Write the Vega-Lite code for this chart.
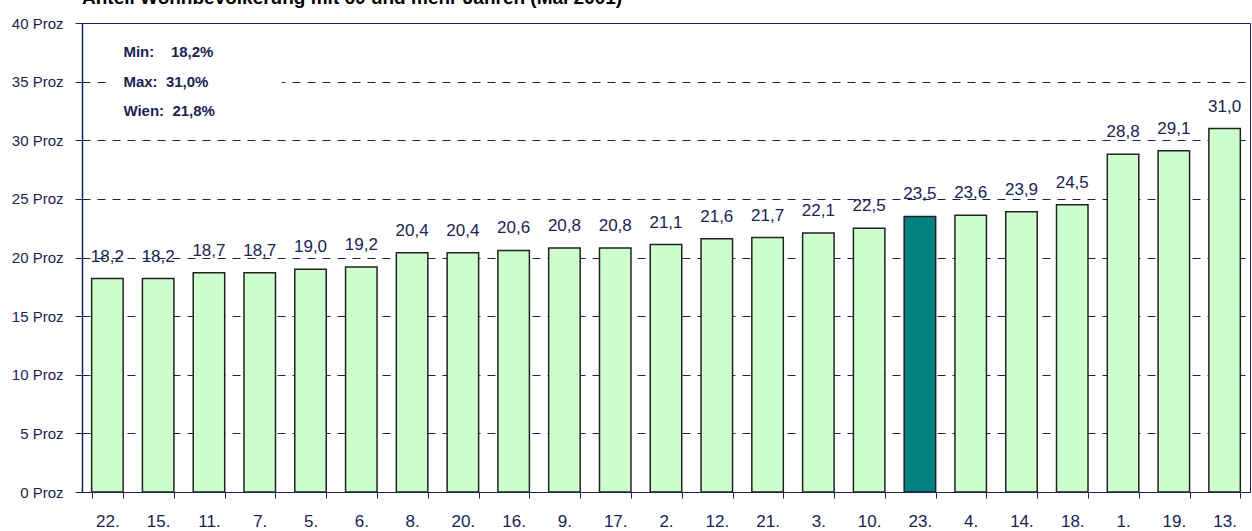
{
  "$schema": "https://vega.github.io/schema/vega-lite/v6.json",
  "width": 1168,
  "height": 469,
  "autosize": "none",
  "padding": {"left": 82, "top": 23, "right": 2, "bottom": 39},
  "background": "white",
  "title": {
    "text": "Anteil Wohnbevölkerung mit 60 und mehr Jahren (Mai 2001)",
    "anchor": "start",
    "frame": "group",
    "font": "Liberation Sans",
    "fontSize": 19,
    "fontWeight": "bold",
    "color": "#000000",
    "offset": 8
  },
  "config": {
    "locale": {"number": {"decimal": ",", "thousands": ".", "grouping": [3], "currency": ["", " €"]}},
    "view": {"stroke": "#1a2352", "strokeWidth": 1},
    "font": "Liberation Sans"
  },
  "datasets": {
    "bars": [
      {"bezirk": "22.", "anteil": 18.2},
      {"bezirk": "15.", "anteil": 18.2},
      {"bezirk": "11.", "anteil": 18.7},
      {"bezirk": "7.", "anteil": 18.7},
      {"bezirk": "5.", "anteil": 19.0},
      {"bezirk": "6.", "anteil": 19.2},
      {"bezirk": "8.", "anteil": 20.4},
      {"bezirk": "20.", "anteil": 20.4},
      {"bezirk": "16.", "anteil": 20.6},
      {"bezirk": "9.", "anteil": 20.8},
      {"bezirk": "17.", "anteil": 20.8},
      {"bezirk": "2.", "anteil": 21.1},
      {"bezirk": "12.", "anteil": 21.6},
      {"bezirk": "21.", "anteil": 21.7},
      {"bezirk": "3.", "anteil": 22.1},
      {"bezirk": "10.", "anteil": 22.5},
      {"bezirk": "23.", "anteil": 23.5},
      {"bezirk": "4.", "anteil": 23.6},
      {"bezirk": "14.", "anteil": 23.9},
      {"bezirk": "18.", "anteil": 24.5},
      {"bezirk": "1.", "anteil": 28.8},
      {"bezirk": "19.", "anteil": 29.1},
      {"bezirk": "13.", "anteil": 31.0}
    ],
    "info": [
      {"bezirk": "22.", "anteil": 37.5, "label": "Min:\u00a0\u00a0\u00a0\u00a018,2%"},
      {"bezirk": "22.", "anteil": 35, "label": "Max:\u00a0\u00a031,0%"},
      {"bezirk": "22.", "anteil": 32.5, "label": "Wien:\u00a0\u00a021,8%"}
    ],
    "box": [
      {"von": "5.", "bis": "22.", "oben": 36.2, "unten": 33.8}
    ]
  },
  "encoding": {
    "x": {
      "field": "bezirk",
      "type": "nominal",
      "scale": {
        "domain": ["22.", "15.", "11.", "7.", "5.", "6.", "8.", "20.", "16.", "9.", "17.", "2.", "12.", "21.", "3.", "10.", "23.", "4.", "14.", "18.", "1.", "19.", "13."],
        "paddingInner": 0.38,
        "paddingOuter": 0.19
      },
      "axis": {
        "title": null,
        "labelAngle": 0,
        "labelFontSize": 17,
        "labelColor": "#1a2352",
        "labelPadding": 15,
        "tickBand": "extent",
        "tickSize": 6,
        "tickColor": "#1a2352",
        "domainColor": "#1a2352",
        "grid": false
      }
    },
    "y": {
      "field": "anteil",
      "type": "quantitative",
      "scale": {"domain": [0, 40], "nice": false},
      "axis": {
        "title": null,
        "values": [0, 5, 10, 15, 20, 25, 30, 35, 40],
        "labelExpr": "datum.value + ' Proz'",
        "labelFontSize": 15,
        "labelColor": "#1a2352",
        "labelPadding": 12,
        "tickSize": 7,
        "tickColor": "#1a2352",
        "domainColor": "#1a2352",
        "domainWidth": 1.5,
        "grid": true,
        "gridColor": "#1a2352",
        "gridDash": [8, 7],
        "gridWidth": 1,
        "gridOpacity": 1
      }
    }
  },
  "layer": [
    {
      "data": {"name": "box"},
      "mark": {"type": "rect", "fill": "white", "stroke": null},
      "encoding": {
        "x": {"field": "von", "type": "nominal", "bandPosition": -0.41},
        "x2": {"field": "bis"},
        "y": {"field": "oben", "type": "quantitative"},
        "y2": {"field": "unten"}
      }
    },
    {
      "data": {"name": "bars"},
      "mark": {"type": "bar", "stroke": "#222222", "strokeWidth": 1.5},
      "encoding": {
        "fill": {
          "condition": {"test": "datum.bezirk === '23.'", "value": "#008080"},
          "value": "#ccffcc"
        }
      }
    },
    {
      "data": {"name": "bars"},
      "mark": {"type": "text", "baseline": "alphabetic", "dy": -17, "fontSize": 17, "color": "#1a2352"},
      "encoding": {
        "text": {"field": "anteil", "type": "quantitative", "format": ".1f"}
      }
    },
    {
      "data": {"name": "info"},
      "mark": {"type": "text", "align": "left", "baseline": "middle", "dx": 16, "fontSize": 15, "fontWeight": "bold", "color": "#1a2352"},
      "encoding": {
        "text": {"field": "label", "type": "nominal"}
      }
    }
  ]
}
